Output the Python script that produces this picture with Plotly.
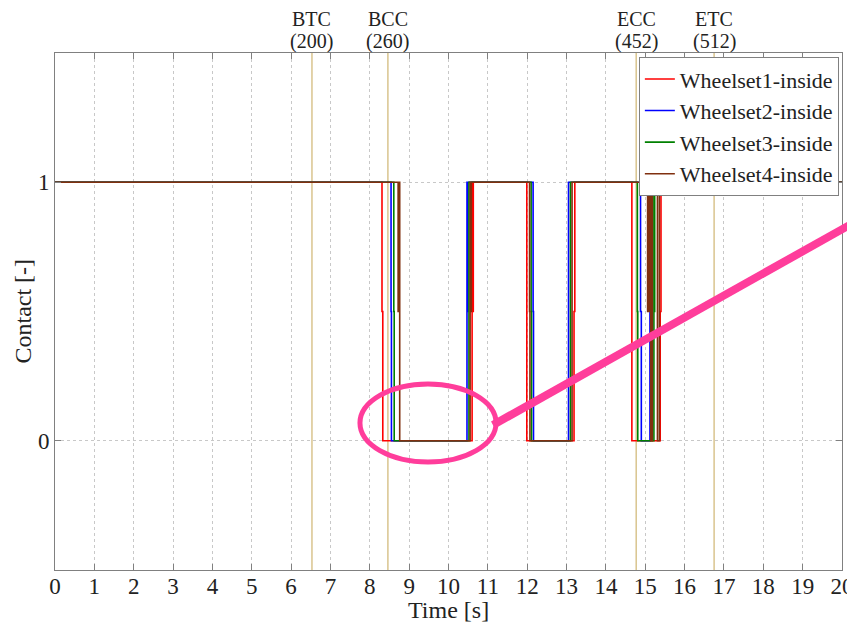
import plotly.graph_objects as go

# ---- data ----
series_names = ["Wheelset1-inside", "Wheelset2-inside", "Wheelset3-inside", "Wheelset4-inside"]

t_ws1 = [0, 8.31, 8.33, 10.60, 10.62, 10.63, 11.99, 13.19, 13.21, 14.66, 15.38, 15.40, 20]
c_ws1 = [1, 0.5, 0, 1, 0.5, 1, 0, 0.5, 1, 0, 0.5, 1, 1]

t_ws2 = [0, 8.54, 8.55, 10.47, 10.48, 10.49, 12.15, 12.16, 13.05, 13.06, 14.88, 14.90, 15.12, 20]
c_ws2 = [1, 0.5, 0, 1, 0.5, 1, 0.5, 0, 1, 1, 0.5, 0, 1, 1]

t_ws3 = [0, 8.61, 8.62, 10.52, 12.10, 12.11, 13.10, 14.80, 14.81, 15.22, 15.23, 15.24, 20]
c_ws3 = [1, 0.5, 0, 1, 0.5, 0, 1, 0.5, 0, 1, 0.5, 1, 1]

t_ws4 = [0, 8.72, 8.74, 8.76, 10.55, 10.57, 10.58, 12.06, 12.07, 13.14, 13.16, 15.06, 15.10, 15.14, 15.18, 15.31, 15.36, 20]
c_ws4 = [1, 0.5, 1, 0, 1, 0.5, 1, 0.5, 0, 1, 1, 0.5, 1, 0, 1, 0, 1, 1]

series_t = [t_ws1, t_ws2, t_ws3, t_ws4]
series_c = [c_ws1, c_ws2, c_ws3, c_ws4]
series_colors = ["#ff0000", "#0000ff", "#008000", "#80300f"]

event_names = ["BTC", "BCC", "ECC", "ETC"]
event_steps = [200, 260, 452, 512]
event_times = [6.53, 8.46, 14.77, 16.75]

x_ticks = list(range(0, 21))
y_ticks = [0, 1]

FONT = "Liberation Serif, Times New Roman, serif"
TXT = "#222222"

fig = go.Figure()

for name, t, c, col in zip(series_names, series_t, series_c, series_colors):
    fig.add_trace(go.Scatter(
        x=t, y=c, mode="lines", name=name,
        line=dict(color=col, width=1.6, shape="hv"),
    ))

shapes = []
annotations = []
for nm, st, tt in zip(event_names, event_steps, event_times):
    shapes.append(dict(type="line", xref="x", yref="paper", x0=tt, x1=tt, y0=0, y1=1,
                       line=dict(color="#d9c48e", width=1.5), layer="below"))
    annotations.append(dict(x=tt, xref="x", y=1.0658, yref="paper", yanchor="middle",
                            text=nm, showarrow=False, borderpad=0,
                            font=dict(family=FONT, size=20, color=TXT)))
    annotations.append(dict(x=tt, xref="x", y=1.0232, yref="paper", yanchor="middle",
                            text=f"({st})", showarrow=False, borderpad=0,
                            font=dict(family=FONT, size=20, color=TXT)))

# axis titles
annotations.append(dict(x=0.5, xref="paper", y=-0.0774, yref="paper", yanchor="middle",
                        text="Time [s]", showarrow=False,
                        font=dict(family=FONT, size=24, color=TXT)))
annotations.append(dict(x=-0.0419, xref="paper", y=0.5, yref="paper", xanchor="center",
                        yanchor="middle", textangle=-90,
                        text="Contact [-]", showarrow=False,
                        font=dict(family=FONT, size=24, color=TXT)))

# pink highlight ellipse and pointer line (annotation overlay)
pink = "#ff3d9b"
shapes.append(dict(type="circle", xref="paper", yref="paper",
                   x0=0.3875, x1=0.5604, y0=0.2089, y1=0.3598,
                   line=dict(color=pink, width=5), layer="above"))
shapes.append(dict(type="line", xref="paper", yref="paper",
                   x0=0.5565, y0=0.2805, x1=1.0165, y1=0.6731,
                   line=dict(color=pink, width=8), layer="above"))

# page body has an 8px margin: figure is 847x617 so the plot lands where the reference has it
fig.update_layout(
    width=847, height=617,
    margin=dict(l=47, r=13, t=45, b=55, autoexpand=False),
    paper_bgcolor="white", plot_bgcolor="white",
    font=dict(family=FONT, size=23, color=TXT),
    showlegend=True,
    legend=dict(x=0.996, y=0.992, xanchor="right", yanchor="top",
                bgcolor="white", bordercolor="#808080", borderwidth=1,
                font=dict(family=FONT, size=22, color=TXT),
                tracegroupgap=0, itemwidth=30),
    shapes=shapes,
    annotations=annotations,
)

fig.update_xaxes(
    range=[0, 20], tickvals=x_ticks, ticktext=[str(v) for v in x_ticks],
    showgrid=True, gridcolor="#c8c8c8", griddash="dot", gridwidth=1,
    showline=True, linecolor="#808080", linewidth=1, mirror="ticks",
    ticks="inside", ticklen=6, tickcolor="#808080",
    zeroline=False, automargin=False, ticklabelstandoff=-5,
    tickfont=dict(family=FONT, size=23, color=TXT),
)
fig.update_yaxes(
    range=[-0.5, 1.5], tickvals=y_ticks, ticktext=[str(v) for v in y_ticks],
    showgrid=True, gridcolor="#c8c8c8", griddash="dot", gridwidth=1,
    showline=True, linecolor="#808080", linewidth=1, mirror="ticks",
    ticks="inside", ticklen=6, tickcolor="#808080",
    zeroline=False, automargin=False,
    tickfont=dict(family=FONT, size=23, color=TXT),
)

fig.write_html("out.html")
